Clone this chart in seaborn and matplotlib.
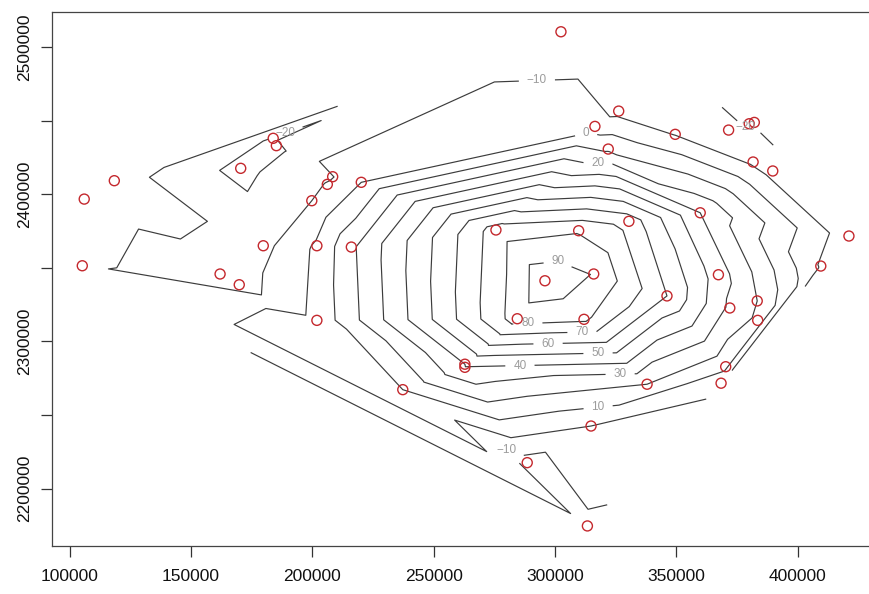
import numpy as np
import pandas as pd
import seaborn as sns
import matplotlib
matplotlib.use("Agg")
import matplotlib.pyplot as plt
import matplotlib.tri as mtri

# sample locations (easting / northing) and the measured value at each one
east = [106000, 105200, 118400, 170500, 183900, 185200, 208400, 206200, 199800, 220200,
        179800, 201900, 216100, 162000, 169900, 201900, 237300, 302500, 326300, 316500,
        349600, 371600, 380100, 382200, 322000, 381700, 389800, 359900, 330500, 275700,
        309800, 421200, 409600, 295900, 316000, 367400, 346200, 372100, 383400, 383600,
        284500, 312000, 262900, 262900, 370400, 338000, 368500, 314900, 288600, 313400]
north = [2396700, 2351400, 2409200, 2417600, 2438000, 2433000, 2411900, 2406700, 2395600, 2408100,
         2365000, 2365000, 2364100, 2345800, 2338500, 2314300, 2267200, 2510400, 2456500, 2446100,
         2440700, 2443600, 2447900, 2448800, 2430700, 2421900, 2415800, 2387400, 2381600, 2375700,
         2375200, 2371600, 2351200, 2341200, 2345800, 2345300, 2330900, 2322700, 2327500, 2314300,
         2315400, 2315000, 2284500, 2282400, 2282800, 2270900, 2271600, 2242500, 2217600, 2174600]
value = [-8, -9, -5, -23, -21, -22, -10.5, -9.5, -10, 0,
         -13, 1.5, 18, -13, -15, 2.5, 10, -15, -13, -5,
         -10.5, -18, -21, -21, 8, -12, -14, 30, 66, 75,
         79, -16, -11, 97, 89.5, 35, 60, 28, 20, 18,
         85, 82, 40, 39.5, 13, 20, 1.5, 0, -14, -12]

levels = [-20, -10, 0, 10, 20, 30, 40, 50, 60, 70, 80, 90]
# where the contour labels sit (they snap to the nearest line)
label_east = [292700, 313200, 317800, 301300, 288900, 311200, 297200, 317800,
              285600, 326900, 317800, 276100, 188700, 378300]
label_north = [2471500, 2438900, 2419200, 2355300, 2310500, 2304400, 2296900, 2290100,
               2282600, 2276500, 2255500, 2227600, 2442900, 2445000]
x_ticks = [100000, 150000, 200000, 250000, 300000, 350000, 400000]
y_ticks = [2200000, 2250000, 2300000, 2350000, 2400000, 2450000, 2500000]
y_labels = ["2200000", "", "2300000", "", "2400000", "", "2500000"]

df = pd.DataFrame({"east": east, "north": north, "value": value})

sns.set_theme(style="white")
plt.rcParams["font.family"] = ["Liberation Sans", "DejaVu Sans"]

fig = plt.figure(figsize=(8.69, 5.94), dpi=100)
# plot region like R's default (right edge falls outside the picture)
ax = fig.add_axes([0.0594, 0.0813, 0.9528, 0.8985])

# R style axis ranges: data range padded by 4 %
xr = df["east"].max() - df["east"].min()
yr = df["north"].max() - df["north"].min()
xlim = (df["east"].min() - 0.04 * xr, df["east"].max() + 0.04 * xr)
ylim = (df["north"].min() - 0.04 * yr, df["north"].max() + 0.04 * yr)
ax.set_xlim(xlim)
ax.set_ylim(ylim)

tri = mtri.Triangulation(df["east"], df["north"])
cs = ax.tricontour(tri, df["value"], levels=levels, colors="#3c3c3c",
                   linewidths=0.85, linestyles="solid")
labels = ax.clabel(cs, fmt=lambda v: f"{v:.0f}".replace("-", "\u2212"), fontsize=8.5,
                   colors="#9c9c9c", inline=True, inline_spacing=8,
                   manual=list(zip(label_east, label_north)))
for t in labels:
    t.set_rotation(0)

sns.scatterplot(data=df, x="east", y="north", ax=ax, marker="o", s=52, linewidth=1.0, zorder=3)
pts = ax.collections[-1]
pts.set_facecolor("none")
pts.set_edgecolor("#c4282d")

ax.set_xlim(xlim)
ax.set_ylim(ylim)

ax.set_xticks(x_ticks)
ax.set_xticklabels([str(t) for t in x_ticks])
ax.set_yticks(y_ticks)
ax.set_yticklabels(y_labels, rotation=90, va="center")
ax.set_xlabel("")
ax.set_ylabel("")

ax.tick_params(axis="both", which="both", direction="out", length=8, width=0.9,
               color="#333333", labelsize=12.5, labelcolor="#111111")
ax.tick_params(axis="x", bottom=True, pad=9)
ax.tick_params(axis="y", left=True, pad=6)

for side in ["left", "bottom", "top", "right"]:
    ax.spines[side].set_visible(True)
    ax.spines[side].set_color("#444444")
    ax.spines[side].set_linewidth(0.9)

fig.savefig("out.png", dpi=100)
